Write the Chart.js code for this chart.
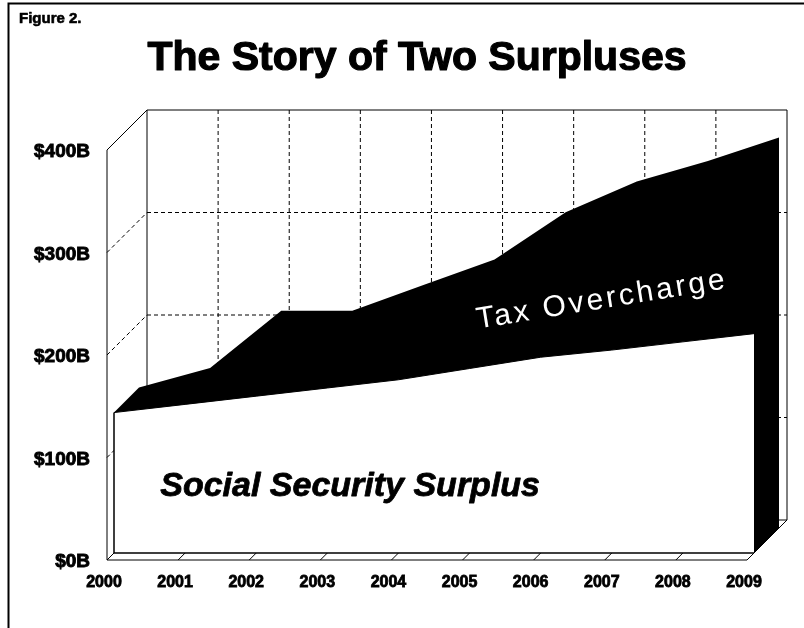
<!DOCTYPE html>
<html>
<head>
<meta charset="utf-8">
<script src="https://cdn.jsdelivr.net/npm/chart.js@4.4.0/dist/chart.umd.min.js"></script>
<style>
  html, body { margin: 0; padding: 0; background: #fff; }
  canvas { display: block; }
</style>
</head>
<body>
<canvas id="chart" width="804" height="628"></canvas>
<script>
// Years on the category axis
const years = ['2000', '2001', '2002', '2003', '2004', '2005', '2006', '2007', '2008', '2009'];
// Social Security surplus, $ billions
const socialSecuritySurplus = [137, 145, 153, 161, 169, 180, 191, 198, 206, 214];
// Non-Social-Security surplus stacked on top, $ billions
const taxOvercharge = [0, 11, 59, 51, 68, 82, 117, 140, 152, 167];
// Value-axis ticks, $ billions
const valueTicks = [0, 100, 200, 300, 400];

// Pseudo-3D box: offsets (px, along the 45° depth direction) measured from the area's front face
const FRONT = 7;       // the axis plane sits this far in front of the area face
const AREA_DEPTH = 25; // thickness of the stacked area
const WALL = 33;       // back wall sits this far behind the area face

const FONT = '"Liberation Sans", Arial, Helvetica, sans-serif';

// heavy text: fill plus a thin outline of the same colour
function heavyText(ctx, text, x, y, stroke) {
  ctx.fillText(text, x, y);
  if (stroke) {
    ctx.lineWidth = stroke;
    ctx.lineJoin = 'round';
    ctx.strokeStyle = ctx.fillStyle;
    ctx.strokeText(text, x, y);
  }
}

const box3d = {
  id: 'box3d',
  beforeDatasetsDraw(chart) {
    const { ctx, scales: { x, y } } = chart;
    const n = years.length;
    const px = i => x.getPixelForValue(i);
    const py = v => y.getPixelForValue(v);
    const vMax = valueTicks[valueTicks.length - 1];
    const x0 = px(0), x1 = px(n - 1), yb = py(0), yt = py(vMax);
    const seg = (a, b, c, d) => { ctx.moveTo(a, b); ctx.lineTo(c, d); };

    ctx.save();
    ctx.strokeStyle = '#000';
    ctx.lineWidth = 1;

    // dashed gridlines on the back wall and the left wall
    ctx.setLineDash([4, 3]);
    ctx.beginPath();
    valueTicks.forEach(v => {
      if (v > 0 && v < vMax) {
        seg(x0 + WALL, py(v) - WALL, x1 + WALL, py(v) - WALL);
        seg(x0 - FRONT, py(v) + FRONT, x0 + WALL, py(v) - WALL);
      }
    });
    for (let i = 1; i < n - 1; i++) {
      seg(px(i) + WALL, yb - WALL, px(i) + WALL, yt - WALL);
    }
    ctx.stroke();
    ctx.setLineDash([]);

    // solid box edges
    ctx.beginPath();
    ctx.rect(x0 + WALL, yt - WALL, x1 - x0, yb - yt);                 // back wall
    seg(x0 - FRONT, yt + FRONT, x0 + WALL, yt - WALL);                // left wall top
    seg(x0 - FRONT, yt + FRONT, x0 - FRONT, yb + FRONT);              // front value axis
    seg(x0 - FRONT, yb + FRONT, x1 - FRONT, yb + FRONT);              // floor front edge
    seg(x0 - FRONT, yb + FRONT, x0 + WALL, yb - WALL);                // floor left edge
    for (let i = 0; i < n; i++) {                                     // floor depth lines
      seg(px(i) - FRONT, yb + FRONT, px(i) + WALL, yb - WALL);
    }
    ctx.stroke();

    // extruded body of the stacked area (top surface + right side)
    const total = i => socialSecuritySurplus[i] + taxOvercharge[i];
    const D = AREA_DEPTH;
    ctx.fillStyle = '#000';
    ctx.beginPath();
    ctx.moveTo(x0, yb);
    ctx.lineTo(x0, py(total(0)));
    for (let i = 0; i < n; i++) ctx.lineTo(px(i) + D, py(total(i)) - D);
    ctx.lineTo(x1 + D, yb - D);
    ctx.lineTo(x1, yb);
    ctx.closePath();
    ctx.fill();
    ctx.restore();
  },
  afterDatasetsDraw(chart) {
    const { ctx, scales: { x, y } } = chart;
    const n = years.length;
    const x0 = x.getPixelForValue(0), x1 = x.getPixelForValue(n - 1), yb = y.getPixelForValue(0);
    ctx.save();
    // outline of the white front face
    ctx.strokeStyle = '#000';
    ctx.lineWidth = 1.5;
    ctx.beginPath();
    ctx.moveTo(x0, y.getPixelForValue(socialSecuritySurplus[0]));
    ctx.lineTo(x0, yb);
    ctx.lineTo(x1, yb);
    ctx.stroke();

    // series captions
    ctx.fillStyle = '#000';
    ctx.font = 'italic bold 34px ' + FONT;
    ctx.textAlign = 'left';
    ctx.textBaseline = 'alphabetic';
    heavyText(ctx, 'Social Security Surplus', x.getPixelForValue(0.65), y.getPixelForValue(56), 0.8);

    ctx.translate(x.getPixelForValue(5.12), y.getPixelForValue(219));
    ctx.rotate(-9.2 * Math.PI / 180);
    ctx.fillStyle = '#fff';
    ctx.font = '30px ' + FONT;
    ctx.letterSpacing = '3px';
    ctx.fillText('Tax Overcharge', 0, 0);
    ctx.restore();
  },
  afterDraw(chart) {
    const { ctx } = chart;
    ctx.save();
    // frame
    ctx.strokeStyle = '#000';
    ctx.lineWidth = 2;
    ctx.beginPath();
    ctx.moveTo(8.5, 628);
    ctx.lineTo(8.5, 3.5);
    ctx.lineTo(804, 3.5);
    ctx.stroke();
    // headings
    ctx.fillStyle = '#000';
    ctx.textBaseline = 'alphabetic';
    ctx.font = 'bold 15px ' + FONT;
    ctx.textAlign = 'left';
    heavyText(ctx, 'Figure 2.', 19, 23, 0.6);
    ctx.font = 'bold 41px ' + FONT;
    ctx.textAlign = 'center';
    heavyText(ctx, 'The Story of Two Surpluses', 417, 70, 1.2);
    ctx.restore();
  }
};

new Chart(document.getElementById('chart'), {
  type: 'line',
  data: {
    labels: years,
    datasets: [
      {
        label: 'Social Security Surplus',
        data: socialSecuritySurplus,
        fill: 'origin',
        backgroundColor: '#fff',
        borderColor: '#000',
        borderWidth: 1,
        pointRadius: 0,
        tension: 0
      },
      {
        label: 'Tax Overcharge',
        data: taxOvercharge,
        fill: '-1',
        backgroundColor: '#000',
        borderColor: '#000',
        borderWidth: 1,
        pointRadius: 0,
        tension: 0
      }
    ]
  },
  options: {
    responsive: false,
    devicePixelRatio: 1,
    animation: false,
    events: [],
    layout: { padding: { top: 143, right: 50, bottom: 0, left: 0 } },
    plugins: {
      legend: { display: false },
      title: { display: false },
      tooltip: { enabled: false }
    },
    scales: {
      x: {
        type: 'category',
        offset: false,
        grid: { display: false, drawTicks: false },
        border: { display: false },
        ticks: {
          color: '#000',
          font: { family: FONT, size: 16, weight: 'bold' },
          textStrokeColor: '#000',
          textStrokeWidth: 0.8,
          padding: 20,
          labelOffset: -10,
          maxRotation: 0,
          autoSkip: false
        },
        afterFit(scale) { scale.height = 75; }
      },
      y: {
        stacked: true,
        min: 0,
        max: 400,
        grid: { display: false, drawTicks: false },
        border: { display: false },
        afterBuildTicks(scale) { scale.ticks = valueTicks.map(v => ({ value: v })); },
        ticks: {
          color: '#000',
          font: { family: FONT, size: 19, weight: 'bold' },
          textStrokeColor: '#000',
          textStrokeWidth: 0.9,
          padding: 24,
          labelOffset: 9,
          callback: v => '$' + v + 'B'
        },
        afterFit(scale) { scale.width = 114; }
      }
    }
  },
  plugins: [box3d]
});
</script>
</body>
</html>
